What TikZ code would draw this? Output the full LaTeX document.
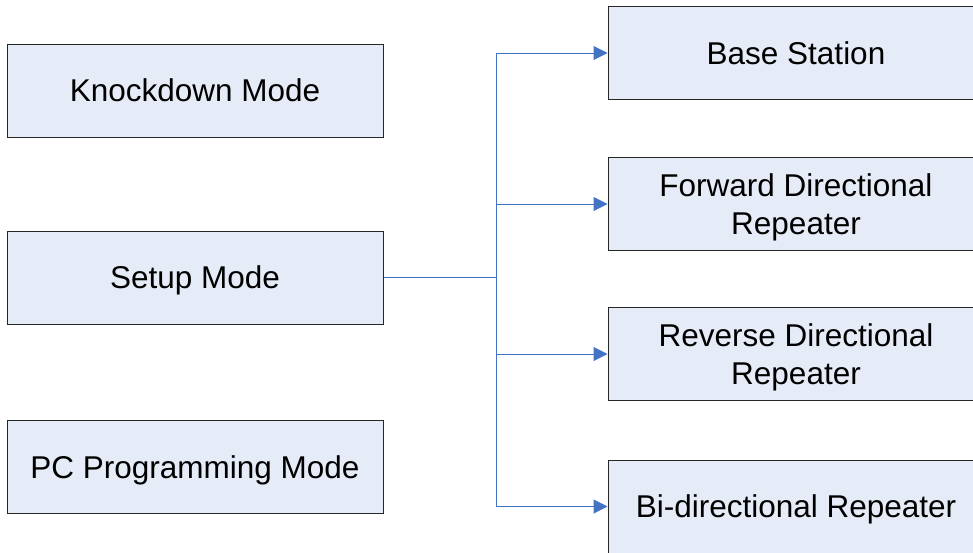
\documentclass[tikz,border=0pt]{standalone}
\usepackage{fontspec}
\setmainfont{Liberation Sans}
\usetikzlibrary{arrows.meta}
\definecolor{boxfill}{RGB}{230,236,247}
\definecolor{linkblue}{RGB}{68,114,196}
\tikzset{
  modebox/.style={draw=black!85, line width=1pt, fill=boxfill,
    minimum width=376pt, minimum height=93pt, inner sep=0pt,
    align=center, text depth=0pt, font=\fontsize{31.5}{38}\selectfont},
  link/.style={linkblue, line width=1pt},
  linkarrow/.style={link, -{Triangle[length=14pt,width=14pt]}}
}
\begin{document}
\begin{tikzpicture}[x=1pt,y=-1pt]
\useasboundingbox (0,0) rectangle (973,552);
\clip (0,0) rectangle (973,552);
% operating modes
\node[modebox] (knock) at (195,90.5) {Knockdown Mode};
\node[modebox] (setup) at (195,277.5) {Setup Mode};
\node[modebox] (pcprog) at (195,467) {PC Programming Mode};
% unit types
\node[modebox] (base) at (796,53) {Base Station};
\node[modebox] (fwd) at (796,204) {Forward Directional\\Repeater};
\node[modebox] (rev) at (796,354) {Reverse Directional\\Repeater};
\node[modebox] (bidir) at (796,506.5) {Bi-directional Repeater};
% connectors
\coordinate (split) at (496,277.5);
\draw[link] (setup.east) -- (split);
\draw[link] (split |- base.west) -- (split |- bidir.west);
\foreach \n in {base,fwd,rev,bidir}
\draw[linkarrow] (split |- \n.west) -- (\n.west);
\end{tikzpicture}
\end{document}
